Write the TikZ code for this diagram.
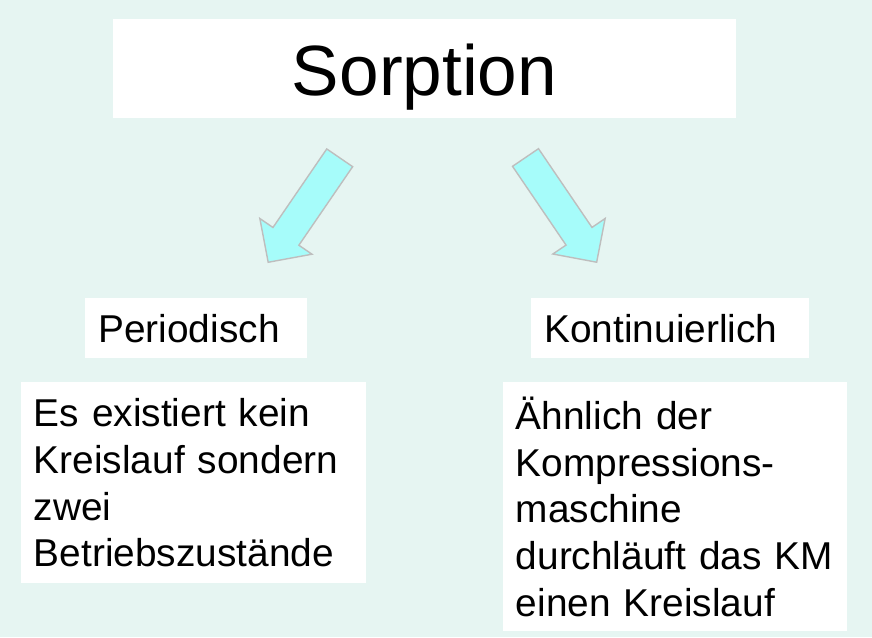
\documentclass[tikz,border=0pt]{standalone}
\usepackage{fontspec}
\setmainfont{Liberation Sans}
\definecolor{mint}{RGB}{230,245,242}
\definecolor{aqua}{RGB}{166,252,250}
\definecolor{rim}{RGB}{190,190,190}
\tikzset{
    box/.style={fill=white, inner ysep=0pt, anchor=north west, align=left},
    labelbox/.style={box, inner xsep=0.26cm, minimum height=1.2cm,
        font=\fontsize{22.1}{26.6}\selectfont},
    textbox/.style={box, inner xsep=0.25cm,
        font=\fontsize{22.1}{26.6}\selectfont},
    bigarrow/.style={fill=aqua, draw=rim, line width=0.8pt, line join=miter}
}
\begin{document}
\begin{tikzpicture}[x=0.02cm, y=-0.02cm]
    \fill[mint] (0,0) rectangle (872,637);

    % title
    \node[fill=white, minimum width=12.46cm, minimum height=1.98cm,
          text height=1.2cm, text depth=0.14cm, inner sep=0pt,
          font=\fontsize{40.5}{48}\selectfont] (sorption) at (424.5,68.5) {Sorption};

    % two kinds
    \node[labelbox, text width=3.92cm] (periodisch) at (85,298) {Periodisch};
    \node[labelbox, text width=5.04cm] (kontinuierlich) at (531,298) {Kontinuierlich};

    \node[textbox, text width=6.4cm, minimum height=4.02cm] (perText) at (21,382)
        {Es existiert kein\\Kreislauf sondern\\zwei\\Betriebszustände};
    \node[textbox, text width=6.38cm, minimum height=4.98cm] (kontText) at (503,382)
        {Ähnlich der\\Kompressions-\\maschine\\durchläuft das KM\\einen Kreislauf};

    % block arrows (tail centre / angle)
    \foreach \pos / \ang in {{(339.7,157.8)}/235.6, {(525.5,157.5)}/-55.8}
    {
        \draw[bigarrow, shift={\pos}, rotate=\ang]
            (0,15.7) -- (95.2,15.7) -- (95.2,31.6) -- (126.6,0)
            -- (95.2,-31.6) -- (95.2,-15.7) -- (0,-15.7) -- cycle;
    }

\end{tikzpicture}
\end{document}
